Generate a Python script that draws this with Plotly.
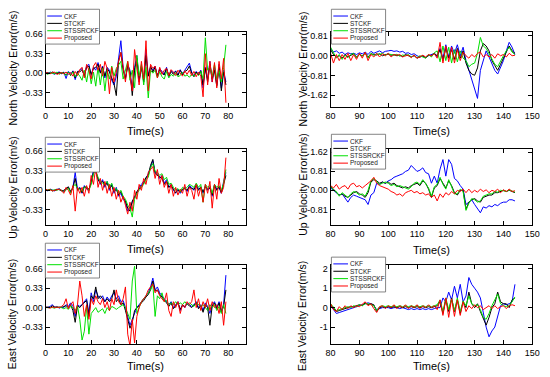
import plotly.graph_objects as go

W, H = 550, 377
FONT = "Liberation Sans, Arial, sans-serif"

series_names = ["CKF", "STCKF", "STSSRCKF", "Proposed"]
series_colors = ["#0000ff", "#000000", "#00e000", "#ff0000"]

t_left = list(range(0, 80))
t_right = list(range(80, 145))

# ---------------- North, 0-79 s ----------------
north_l_ckf = [
    0.01, -0.01, 0.02, 0.00, -0.02, 0.01, 0.02, -0.01,
    0.02, -0.09, 0.03, -0.02, 0.04, -0.11, 0.02, 0.05,
    0.08, -0.05, 0.12, 0.15, -0.04, 0.10, 0.05, 0.18,
    0.02, 0.12, -0.08, 0.10, 0.05, -0.12, -0.20, -0.05,
    0.25, 0.55, 0.10, -0.08, 0.15, 0.05, -0.30, 0.10,
    0.30, -0.15, 0.12, -0.10, 0.40, -0.05, 0.10, 0.05,
    0.12, -0.05, 0.08, 0.02, -0.02, 0.10, -0.06, 0.05,
    0.00, 0.04, -0.03, 0.06, -0.02, 0.05, 0.10, 0.17,
    0.02, -0.05, 0.03, -0.02, 0.05, -0.25, 0.10, -0.10,
    0.20, -0.15, 0.10, -0.20, 0.15, -0.25, 0.05, -0.15]
north_l_stckf = [
    0.00, 0.01, -0.01, 0.02, 0.00, -0.01, 0.01, 0.00,
    0.01, -0.03, 0.02, -0.04, 0.03, -0.08, 0.03, 0.02,
    0.06, -0.04, 0.10, 0.12, -0.02, 0.08, 0.10, 0.15,
    0.00, 0.10, -0.05, 0.08, 0.02, -0.08, -0.18, -0.38,
    0.20, 0.35, 0.05, -0.10, 0.12, 0.02, -0.38, 0.05,
    0.25, -0.12, 0.10, -0.15, 0.30, -0.05, 0.12, 0.02,
    0.10, -0.04, 0.06, 0.00, -0.03, 0.08, -0.05, 0.03,
    -0.02, 0.03, -0.04, 0.05, -0.03, 0.03, 0.05, 0.12,
    0.00, -0.06, 0.02, -0.03, 0.04, -0.20, 0.08, -0.15,
    0.15, -0.10, 0.05, -0.22, 0.10, -0.30, 0.02, -0.20]
north_l_stss = [
    0.00, -0.02, 0.01, 0.00, -0.01, 0.02, -0.02, 0.01,
    0.00, -0.04, 0.02, -0.03, 0.02, -0.06, 0.00, -0.05,
    -0.12, 0.05, -0.15, 0.08, -0.18, 0.02, -0.22, 0.10,
    -0.20, 0.08, -0.30, 0.05, -0.10, 0.12, -0.05, 0.08,
    0.15, 0.20, -0.10, 0.05, 0.20, -0.12, 0.05, -0.25,
    0.30, -0.05, 0.15, -0.20, 0.10, -0.42, 0.05, 0.00,
    0.05, -0.08, 0.02, -0.06, -0.10, 0.03, -0.08, -0.02,
    -0.05, 0.00, -0.06, -0.04, 0.02, -0.05, -0.03, -0.07,
    -0.02, -0.05, 0.00, -0.04, 0.03, -0.10, 0.60, 0.05,
    0.10, -0.05, 0.15, -0.10, 0.05, -0.15, 0.10, 0.48]
north_l_prop = [
    0.01, 0.00, -0.01, 0.01, 0.02, -0.02, 0.00, 0.01,
    -0.01, 0.02, -0.02, 0.01, -0.05, 0.03, -0.04, 0.06,
    0.10, -0.08, 0.15, 0.05, -0.10, 0.12, 0.18, 0.05,
    0.15, -0.05, 0.20, 0.08, -0.35, 0.10, -0.15, 0.05,
    0.20, 0.35, 0.08, -0.15, 0.20, -0.05, -0.30, 0.40,
    0.10, -0.20, 0.20, -0.10, 0.55, -0.30, 0.15, 0.08,
    0.12, -0.08, 0.10, -0.02, 0.05, 0.08, -0.04, 0.06,
    0.02, -0.04, 0.05, 0.00, -0.05, 0.04, -0.02, 0.05,
    -0.04, 0.03, -0.06, 0.02, -0.05, -0.40, 0.33, -0.20,
    0.20, -0.15, 0.18, -0.25, 0.20, -0.10, 0.25, -0.50]

# ---------------- North, 80-144 s ----------------
north_r_ckf = [
    0.30, 0.15, 0.20, 0.10, 0.15, 0.05, 0.12, 0.08,
    0.10, 0.05, 0.12, 0.08, 0.15, 0.05, 0.18, 0.10,
    0.15, 0.20, 0.12, 0.18, 0.20, 0.22, 0.18, 0.20,
    0.15, 0.18, 0.10, 0.12, 0.05, 0.08, 0.00, -0.05,
    -0.02, -0.08, 0.00, 0.05, 0.10, -0.05, 0.30, -0.10,
    0.45, -0.05, 0.40, 0.10, 0.45, 0.00, 0.35, -0.20,
    -0.60, -1.00, -1.40, -1.75, -0.60, -0.20, 0.20, -0.05,
    -0.30, -0.60, -0.75, -0.50, -0.20, 0.20, 0.55, 0.35,
    0.05]
north_r_stckf = [
    0.25, 0.05, -0.05, 0.00, -0.10, 0.05, -0.05, 0.02,
    0.08, -0.05, 0.05, 0.00, 0.10, -0.05, 0.08, 0.05,
    0.03, 0.08, 0.00, 0.05, 0.06, 0.02, 0.04, 0.00,
    0.02, -0.03, 0.05, 0.00, -0.05, 0.00, -0.10, -0.05,
    0.00, -0.08, 0.02, 0.00, 0.10, 0.00, 0.25, -0.20,
    0.30, -0.10, 0.25, -0.15, 0.30, -0.10, 0.20, -0.30,
    -0.60, -0.75, -0.80, -0.50, 0.20, 0.50, 0.40, 0.20,
    -0.20, -0.40, -0.60, -0.35, -0.10, 0.15, 0.40, 0.20,
    0.10]
north_r_stss = [
    0.35, 0.10, -0.10, 0.05, -0.15, 0.02, -0.08, 0.05,
    0.10, -0.08, 0.05, -0.02, 0.12, -0.10, 0.10, 0.02,
    0.08, 0.05, 0.10, 0.02, 0.08, 0.05, 0.02, 0.06,
    -0.02, 0.03, 0.00, 0.05, -0.05, 0.02, -0.08, 0.00,
    -0.05, -0.10, 0.05, -0.05, 0.12, 0.20, -0.25, 0.40,
    -0.20, 0.35, -0.30, 0.25, -0.25, 0.20, -0.10, -0.20,
    -0.45, -0.35, -0.30, 0.10, 0.75, 0.40, 0.30, 0.10,
    -0.15, -0.35, -0.45, -0.20, 0.00, 0.20, 0.35, 0.15,
    0.05]
north_r_prop = [
    0.10, -0.30, 0.05, -0.20, 0.05, -0.15, 0.10, -0.20,
    0.05, -0.15, 0.10, -0.10, 0.15, -0.20, 0.05, -0.05,
    0.10, -0.05, 0.08, 0.00, 0.10, -0.05, 0.05, 0.02,
    0.05, -0.05, 0.00, 0.02, -0.08, 0.03, -0.10, -0.03,
    0.02, -0.05, 0.05, 0.00, 0.08, -0.10, 0.55, -0.30,
    0.40, -0.25, 0.35, -0.30, 0.25, -0.20, 0.15, 0.00,
    -0.10, 0.05, -0.05, 0.10, 0.15, -0.05, 0.05, -0.05,
    0.05, -0.10, 0.08, 0.00, 0.05, -0.05, 0.10, 0.00,
    0.02]

# ---------------- Up, 0-79 s ----------------
up_l_ckf = [
    0.02, -0.01, 0.02, 0.00, -0.01, 0.01, 0.03, 0.00,
    -0.02, 0.02, 0.05, -0.03, 0.05, 0.30, 0.02, 0.05,
    -0.05, 0.08, 0.02, 0.00, 0.15, 0.35, 0.30, 0.20,
    0.10, 0.18, 0.05, 0.15, 0.00, 0.10, -0.05, 0.05,
    -0.10, -0.05, -0.15, -0.20, -0.35, -0.30, -0.20, -0.10,
    -0.05, 0.05, 0.10, 0.15, 0.20, 0.28, 0.40, 0.50,
    0.30, 0.28, 0.20, 0.25, 0.12, 0.18, 0.05, 0.10,
    0.00, -0.05, 0.02, -0.05, 0.00, 0.05, -0.02, 0.08,
    0.05, 0.00, 0.10, 0.02, 0.05, -0.05, 0.08, 0.00,
    0.05, -0.10, 0.10, 0.02, 0.05, -0.05, 0.15, 0.30]
up_l_stckf = [
    0.01, 0.00, 0.02, -0.01, 0.00, 0.02, 0.01, -0.01,
    0.00, 0.03, 0.06, -0.02, 0.04, 0.20, 0.00, 0.04,
    -0.04, 0.06, 0.04, 0.02, 0.12, 0.30, 0.35, 0.18,
    0.12, 0.15, 0.08, 0.12, 0.03, 0.08, -0.02, 0.02,
    -0.08, -0.02, -0.12, -0.18, -0.30, -0.35, -0.18, -0.12,
    -0.02, 0.03, 0.08, 0.12, 0.22, 0.25, 0.42, 0.52,
    0.28, 0.25, 0.22, 0.20, 0.10, 0.15, 0.05, 0.08,
    0.02, -0.04, 0.00, -0.03, 0.02, 0.03, 0.00, 0.06,
    0.03, 0.02, 0.08, 0.00, 0.06, -0.03, 0.06, 0.02,
    0.04, -0.08, 0.08, 0.00, 0.06, -0.04, 0.10, 0.25]
up_l_stss = [
    0.00, 0.01, 0.01, 0.00, 0.01, 0.00, 0.02, 0.00,
    -0.03, 0.00, 0.04, -0.05, 0.06, 0.10, 0.03, 0.02,
    -0.02, 0.05, 0.06, 0.00, 0.10, 0.28, 0.32, 0.22,
    0.15, 0.12, 0.10, 0.15, 0.05, 0.12, 0.00, 0.03,
    -0.05, 0.00, -0.10, -0.15, -0.25, -0.30, -0.45, -0.15,
    -0.05, 0.00, 0.05, 0.10, 0.18, 0.22, 0.38, 0.45,
    0.32, 0.30, 0.25, 0.28, 0.18, 0.22, 0.10, 0.12,
    0.05, 0.00, 0.03, -0.02, 0.05, 0.02, 0.05, 0.10,
    0.08, 0.05, 0.12, 0.05, 0.10, -0.20, 0.10, 0.05,
    0.08, -0.05, 0.10, 0.05, 0.08, 0.00, 0.12, 0.35]
up_l_prop = [
    0.02, 0.00, 0.01, -0.01, 0.00, 0.01, 0.02, 0.00,
    -0.05, 0.05, 0.00, -0.08, 0.08, -0.35, 0.05, -0.05,
    0.05, -0.10, 0.08, -0.05, 0.25, 0.10, 0.38, 0.05,
    0.20, 0.00, 0.15, -0.05, 0.10, -0.10, 0.05, -0.15,
    0.00, -0.20, -0.10, -0.25, -0.40, -0.20, -0.35, 0.00,
    -0.15, 0.10, 0.00, 0.20, 0.10, 0.30, 0.35, 0.40,
    0.20, 0.35, 0.10, 0.25, 0.05, 0.15, -0.05, 0.10,
    -0.10, 0.05, -0.08, 0.02, -0.05, 0.10, -0.10, 0.05,
    0.00, -0.15, 0.10, -0.10, 0.05, -0.20, 0.10, -0.05,
    0.15, -0.30, 0.10, -0.15, 0.20, -0.05, 0.05, 0.55]

# ---------------- Up, 80-144 s ----------------
up_r_ckf = [
    0.10, 0.00, -0.10, -0.20, -0.15, -0.35, -0.50, -0.30,
    -0.20, -0.25, -0.30, -0.35, -0.40, -0.60, -0.20, -0.10,
    0.30, 0.25, 0.35, 0.30, 0.40, 0.45, 0.55, 0.60,
    0.65, 0.70, 0.80, 0.85, 1.05, 0.90, 0.80, 0.85,
    0.95, 0.75, 0.70, 0.30, 0.60, 0.30, 0.90, 1.30,
    0.60, 1.30, 1.10, 0.50, 0.40, 0.20, 0.05, -0.60,
    -0.50, -0.40, -0.60, -0.80, -0.95, -0.70, -0.75, -0.65,
    -0.70, -0.60, -0.65, -0.55, -0.50, -0.50, -0.40, -0.40,
    -0.45]
up_r_stckf = [
    0.15, 0.05, -0.10, -0.20, -0.15, -0.25, -0.30, -0.20,
    -0.10, -0.05, -0.15, -0.20, -0.30, -0.10, 0.35, 0.45,
    0.40, 0.30, 0.35, 0.30, 0.35, 0.25, 0.30, 0.20,
    0.15, 0.10, 0.15, 0.10, 0.20, 0.25, 0.30, 0.20,
    0.40, 0.30, 0.05, -0.30, 0.10, 0.20, 0.50, 0.30,
    0.10, 0.40, 0.20, -0.10, -0.20, 0.00, 0.00, -0.80,
    -0.50, -0.40, -0.35, -0.45, -0.50, -0.30, -0.25, -0.20,
    -0.20, -0.10, -0.10, -0.05, 0.00, -0.05, 0.00, -0.05,
    -0.10]
up_r_stss = [
    0.20, 0.00, -0.05, -0.25, -0.10, -0.20, -0.30, -0.15,
    -0.05, -0.10, -0.20, -0.15, -0.25, 0.00, 0.40, 0.50,
    0.35, 0.25, 0.30, 0.35, 0.30, 0.20, 0.25, 0.15,
    0.20, 0.15, 0.10, 0.05, 0.15, 0.30, 0.35, 0.25,
    0.45, 0.25, 0.10, -0.25, 0.15, 0.25, 0.55, 0.25,
    0.05, 0.45, 0.15, -0.15, -0.15, 0.05, -0.05, -0.85,
    -0.55, -0.35, -0.40, -0.50, -0.45, -0.25, -0.20, -0.15,
    -0.15, -0.05, -0.08, 0.00, -0.02, -0.05, 0.02, -0.03,
    -0.08]
up_r_prop = [
    0.20, 0.10, 0.25, 0.05, 0.15, 0.20, 0.05, 0.25,
    0.30, 0.15, 0.20, 0.10, 0.20, 0.30, 0.40, 0.55,
    0.30, 0.20, 0.15, 0.10, 0.05, -0.05, -0.10, -0.20,
    -0.15, -0.25, -0.10, -0.05, 0.00, -0.10, -0.05, -0.15,
    -0.10, -0.20, -0.15, -0.30, -0.20, -0.45, -0.15, -0.30,
    -0.10, -0.20, -0.05, -0.15, 0.00, -0.05, 0.05, -0.10,
    0.05, -0.10, 0.00, -0.08, 0.05, -0.05, 0.02, -0.10,
    0.00, -0.05, 0.05, -0.10, 0.02, -0.05, 0.05, -0.05,
    -0.02]

# ---------------- East, 0-79 s ----------------
east_l_ckf = [
    0.01, 0.00, 0.02, 0.05, 0.00, 0.02, -0.01, 0.01,
    0.00, 0.05, 0.02, 0.08, 0.03, -0.15, 0.05, 0.02,
    0.05, 0.10, 0.15, -0.10, 0.25, 0.10, 0.30, 0.20,
    0.15, 0.20, 0.10, 0.18, 0.12, 0.20, 0.25, 0.15,
    0.20, 0.10, 0.12, 0.00, -0.15, -0.30, -0.20, -0.10,
    0.00, 0.05, 0.10, 0.15, 0.20, 0.25, 0.35, 0.50,
    0.30, 0.35, 0.25, 0.20, 0.15, 0.10, 0.05, 0.10,
    0.00, 0.05, 0.10, -0.05, 0.05, 0.00, 0.08, 0.05,
    0.02, 0.05, 0.10, 0.00, 0.05, -0.05, 0.08, 0.02,
    -0.10, 0.05, 0.10, 0.00, 0.10, -0.05, 0.05, 0.55]
east_l_stckf = [
    0.00, 0.01, 0.00, 0.03, 0.01, 0.00, 0.01, 0.00,
    0.02, 0.03, 0.00, 0.05, -0.05, -0.25, 0.03, 0.00,
    0.05, 0.08, 0.12, -0.15, 0.20, 0.15, 0.35, 0.15,
    0.20, 0.15, 0.10, 0.15, 0.10, 0.15, 0.30, 0.10,
    0.15, 0.05, 0.08, -0.05, -0.20, -0.35, -0.25, -0.05,
    0.00, 0.03, 0.08, 0.12, 0.18, 0.22, 0.30, 0.45,
    0.28, 0.30, 0.22, 0.18, 0.12, 0.08, 0.02, 0.08,
    -0.02, 0.04, 0.08, -0.03, 0.04, 0.02, 0.06, 0.03,
    0.00, 0.04, 0.08, -0.02, 0.03, -0.08, 0.05, 0.00,
    -0.30, 0.03, 0.08, -0.02, 0.08, -0.08, 0.02, 0.30]
east_l_stss = [
    0.00, 0.00, 0.01, 0.00, -0.01, 0.01, 0.00, 0.00,
    -0.02, 0.00, -0.03, 0.02, 0.00, -0.05, 0.03, -0.20,
    -0.55, -0.40, 0.02, -0.45, -0.10, -0.05, 0.00, -0.08,
    -0.05, -0.02, -0.10, 0.00, -0.05, 0.02, 0.00, -0.03,
    0.00, 0.02, 0.05, 0.00, -0.10, -0.20, 0.45, 0.70,
    -0.10, 0.00, 0.10, 0.15, 0.20, 0.25, 0.30, 0.40,
    -0.15, 0.20, 0.15, 0.25, 0.10, 0.12, 0.05, 0.08,
    0.05, 0.10, 0.05, 0.08, 0.05, 0.10, 0.05, 0.08,
    0.05, 0.02, 0.08, 0.05, 0.02, 0.05, 0.00, -0.05,
    0.05, 0.00, 0.05, -0.05, 0.02, -0.10, 0.05, -0.10]
east_l_prop = [
    0.01, 0.00, -0.01, 0.01, 0.00, 0.01, 0.00, 0.02,
    0.05, 0.15, -0.02, 0.05, 0.10, -0.10, 0.05, 0.45,
    0.20, -0.15, 0.05, -0.20, 0.15, 0.05, 0.20, 0.10,
    0.05, 0.15, 0.00, 0.10, -0.05, 0.15, 0.05, 0.30,
    0.10, 0.05, 0.15, 0.35, -0.45, -0.65, -0.20, -0.60,
    -0.15, 0.00, 0.10, 0.15, 0.20, 0.30, 0.35, 0.40,
    0.25, 0.30, 0.20, 0.15, 0.10, 0.25, -0.05, -0.15,
    0.10, 0.00, 0.10, -0.10, 0.05, 0.00, 0.10, 0.05,
    0.10, 0.30, 0.00, 0.15, -0.05, 0.10, 0.00, 0.15,
    -0.05, 0.10, 0.00, 0.05, -0.10, 0.10, -0.30, 0.10]

# ---------------- East, 80-144 s ----------------
east_r_ckf = [
    0.10, -0.10, -0.30, -0.25, -0.20, -0.15, -0.10, -0.05,
    0.00, 0.05, 0.10, 0.15, 0.20, 0.25, 0.20, 0.10,
    -0.10, -0.05, 0.00, 0.00, 0.00, -0.05, 0.00, 0.00,
    -0.05, 0.00, -0.05, -0.10, -0.05, -0.10, -0.05, -0.10,
    -0.05, -0.10, -0.05, -0.10, -0.05, 0.00, 0.00, 0.50,
    0.30, 0.80, 0.40, 1.10, 0.50, 1.20, 0.30, 0.60,
    1.55, 1.20, 1.00, 0.80, 0.50, -0.30, -1.00, -1.50,
    -1.20, -1.00, -0.50, 0.10, 0.20, 0.15, 0.20, 0.30,
    1.20]
east_r_stckf = [
    0.15, -0.05, -0.20, -0.15, -0.10, -0.05, 0.00, 0.05,
    0.05, 0.10, 0.15, 0.10, 0.25, 0.15, 0.20, 0.15,
    -0.20, 0.00, 0.05, 0.00, 0.05, 0.00, 0.05, 0.00,
    0.05, 0.00, 0.05, 0.00, 0.05, 0.00, 0.05, 0.00,
    0.05, 0.00, 0.05, 0.00, 0.05, 0.10, 0.30, -0.30,
    0.40, -0.20, 0.50, -0.20, 0.40, -0.30, 0.30, 0.00,
    0.80, 0.20, 0.00, 0.20, -0.20, -0.60, -0.90, -0.50,
    0.00, 0.20, 0.80, 0.30, 0.20, 0.20, 0.00, 0.40,
    0.50]
east_r_stss = [
    0.20, 0.00, -0.15, -0.10, -0.05, 0.00, 0.05, 0.00,
    0.10, 0.05, 0.15, 0.10, 0.20, 0.20, 0.15, 0.10,
    -0.15, 0.05, 0.10, 0.05, 0.10, 0.05, 0.10, 0.05,
    0.10, 0.05, 0.10, 0.05, 0.10, 0.05, 0.10, 0.05,
    0.10, 0.05, 0.10, 0.05, 0.10, 0.15, 0.40, -0.20,
    0.50, -0.10, 0.45, -0.15, 0.50, -0.20, 0.35, 0.10,
    0.60, 0.20, 0.10, 0.15, -0.10, -0.50, -0.60, -0.30,
    0.10, 0.40, 0.70, 0.20, 0.10, 0.05, 0.10, 0.30,
    0.55]
east_r_prop = [
    0.20, -0.10, -0.20, 0.05, -0.10, 0.10, -0.05, 0.10,
    0.00, 0.10, 0.05, 0.20, 0.30, 0.10, 0.20, -0.05,
    -0.25, 0.05, 0.10, -0.05, 0.10, 0.00, 0.15, -0.05,
    0.10, 0.00, 0.15, -0.05, 0.10, 0.00, 0.15, -0.05,
    0.10, 0.00, 0.15, 0.00, 0.10, -0.10, 0.40, -0.40,
    0.50, -0.50, 0.45, -0.45, 0.40, -0.40, 0.30, -0.20,
    0.10, -0.05, 0.15, 0.00, 0.10, -0.10, 0.00, 0.10,
    -0.05, 0.10, -0.05, 0.05, 0.10, -0.05, 0.10, 0.15,
    0.10]

# tick values / labels
x_ticks_left = [0, 10, 20, 30, 40, 50, 60, 70, 80]
x_ticks_right = [80, 90, 100, 110, 120, 130, 140, 150]
y_ticks_small = [-0.33, 0.0, 0.33, 0.66]
y_ticks_small_txt = ["-0.33", "0.00", "0.33", "0.66"]
y_ticks_north_r = [-1.62, -0.81, 0.0, 0.81]
y_ticks_north_r_txt = ["-1.62", "-0.81", "0.00", "0.81"]
y_ticks_up_r = [-0.81, 0.0, 0.81, 1.62]
y_ticks_up_r_txt = ["-0.81", "0.00", "0.81", "1.62"]
y_ticks_east_r = [-1, 0, 1, 2]
y_ticks_east_r_txt = ["-1", "0", "1", "2"]

x_title = "Time(s)"

# ---- layout geometry (pixels) ----
panels = [
    dict(t=t_left, ys=[north_l_ckf, north_l_stckf, north_l_stss, north_l_prop],
         ytitle="North Velocity Error(m/s)", yr=[-0.58, 0.70], yt=y_ticks_small, ytt=y_ticks_small_txt,
         xr=[0, 88], xt=x_ticks_left, px=(41.5, 247.3), py=(30, 106), leg=(41.3, 7.3),
         yt_pos=(8, 66), xt_y=130),
    dict(t=t_right, ys=[north_r_ckf, north_r_stckf, north_r_stss, north_r_prop],
         ytitle="North Velocity Error(m/s)", yr=[-2.12, 0.98], yt=y_ticks_north_r, ytt=y_ticks_north_r_txt,
         xr=[80, 150], xt=x_ticks_right, px=(333.5, 540), py=(30, 106), leg=(334.3, 7.3),
         yt_pos=(305, 67), xt_y=130),
    dict(t=t_left, ys=[up_l_ckf, up_l_stckf, up_l_stss, up_l_prop],
         ytitle="Up Velocity Error(m/s)", yr=[-0.58, 0.70], yt=y_ticks_small, ytt=y_ticks_small_txt,
         xr=[0, 88], xt=x_ticks_left, px=(41.5, 247.3), py=(147.5, 224), leg=(41.3, 136),
         yt_pos=(8, 186), xt_y=248),
    dict(t=t_right, ys=[up_r_ckf, up_r_stckf, up_r_stss, up_r_prop],
         ytitle="Up Velocity Error(m/s)", yr=[-1.46, 1.76], yt=y_ticks_up_r, ytt=y_ticks_up_r_txt,
         xr=[80, 150], xt=x_ticks_right, px=(333.5, 540), py=(147.5, 224), leg=(334.3, 133),
         yt_pos=(305, 183), xt_y=249),
    dict(t=t_left, ys=[east_l_ckf, east_l_stckf, east_l_stss, east_l_prop],
         ytitle="East Velocity Error(m/s)", yr=[-0.62, 0.72], yt=y_ticks_small, ytt=y_ticks_small_txt,
         xr=[0, 88], xt=x_ticks_left, px=(41.5, 247.3), py=(264.5, 344), leg=(41.3, 242.5),
         yt_pos=(8, 314), xt_y=366),
    dict(t=t_right, ys=[east_r_ckf, east_r_stckf, east_r_stss, east_r_prop],
         ytitle="East Velocity Error(m/s)", yr=[-1.88, 2.19], yt=y_ticks_east_r, ytt=y_ticks_east_r_txt,
         xr=[80, 150], xt=x_ticks_right, px=(333.5, 540), py=(264.5, 344), leg=(334.3, 256.5),
         yt_pos=(305, 316), xt_y=366),
]


def fx(x):
    return x / W


def fy(y):
    return 1 - y / H


fig = go.Figure()
shapes = []
annotations = []
layout = {}

for i, p in enumerate(panels, start=1):
    sfx = "" if i == 1 else str(i)
    for name, col, yv in zip(series_names, series_colors, p["ys"]):
        fig.add_trace(go.Scatter(
            x=p["t"], y=yv, mode="lines", name=name,
            line=dict(color=col, width=1), showlegend=False,
            xaxis="x" + sfx, yaxis="y" + sfx))
    axcommon = dict(showline=True, mirror="ticks", linecolor="black", linewidth=1,
                    ticks="inside", ticklen=4, tickwidth=1, tickcolor="black",
                    showgrid=False, zeroline=False,
                    tickfont=dict(family=FONT, size=9, color="black"))
    layout["xaxis" + sfx] = dict(domain=[fx(p["px"][0]), fx(p["px"][1])], range=p["xr"],
                                 anchor="y" + sfx, tickmode="array", tickvals=p["xt"],
                                 ticktext=[str(v) for v in p["xt"]], **axcommon)
    layout["yaxis" + sfx] = dict(domain=[fy(p["py"][1]), fy(p["py"][0])], range=p["yr"],
                                 anchor="x" + sfx, tickmode="array", tickvals=p["yt"],
                                 ticktext=p["ytt"], **axcommon)
    # axis titles
    annotations.append(dict(text=x_title, x=fx((p["px"][0] + p["px"][1]) / 2), y=fy(p["xt_y"]),
                            xref="paper", yref="paper", showarrow=False,
                            xanchor="center", yanchor="middle",
                            font=dict(family=FONT, size=11, color="black")))
    annotations.append(dict(text=p["ytitle"], x=fx(p["yt_pos"][0]), y=fy(p["yt_pos"][1]),
                            xref="paper", yref="paper", showarrow=False, textangle=-90,
                            xanchor="center", yanchor="middle",
                            font=dict(family=FONT, size=10.5, color="black")))
    # legend box
    lx, ly = p["leg"]
    shapes.append(dict(type="rect", xref="paper", yref="paper",
                       x0=fx(lx), x1=fx(lx + 55.5), y0=fy(ly), y1=fy(ly + 35),
                       line=dict(color="#666666", width=0.8), fillcolor="white", layer="above"))
    for k, (name, col) in enumerate(zip(series_names, series_colors)):
        yy = ly + 6.8 + k * 7.4
        shapes.append(dict(type="line", xref="paper", yref="paper",
                           x0=fx(lx + 2), x1=fx(lx + 17), y0=fy(yy), y1=fy(yy),
                           line=dict(color=col, width=1), layer="above"))
        annotations.append(dict(text=name, x=fx(lx + 18.5), y=fy(yy), xref="paper", yref="paper",
                                showarrow=False, xanchor="left", yanchor="middle", borderpad=0,
                                font=dict(family=FONT, size=6.5, color="#222222")))

fig.update_layout(
    width=W, height=H, margin=dict(l=0, r=0, t=0, b=0),
    paper_bgcolor="white", plot_bgcolor="white",
    shapes=shapes, annotations=annotations, showlegend=False,
    hovermode=False,
    font=dict(family=FONT, color="black"),
    **layout)

fig.write_html("out.html", config={"displayModeBar": False, "staticPlot": True},
               post_script="document.body.style.margin='0px';document.body.style.padding='0px';")
